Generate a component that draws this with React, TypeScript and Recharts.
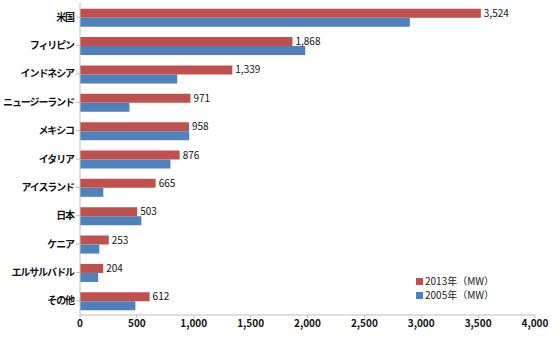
import React from 'react';
import { BarChart, Bar, XAxis, YAxis, LabelList, Legend } from 'recharts';

const countries = ['米国', 'フィリピン', 'インドネシア', 'ニュージーランド', 'メキシコ', 'イタリア', 'アイスランド', '日本', 'ケニア', 'エルサルバドル', 'その他'];
const mw2013 = [3524, 1868, 1339, 971, 958, 876, 665, 503, 253, 204, 612];
const mw2005 = [2900, 1980, 855, 435, 960, 795, 205, 540, 170, 160, 487];
const xTicks = [0, 500, 1000, 1500, 2000, 2500, 3000, 3500, 4000];

const series = [
  { key: 'y2013', name: '2013年（MW）', color: '#C0504D' },
  { key: 'y2005', name: '2005年（MW）', color: '#4F81BD' },
];

const data = countries.map((c, i) => ({ country: c, y2013: mw2013[i], y2005: mw2005[i] }));

const font = '"Noto Sans CJK JP", "Noto Sans", sans-serif';

const LegendBox = () => (
  <div style={{ fontFamily: font, fontSize: 10, color: '#222', lineHeight: '14px' }}>
    {series.map((s) => (
      <div key={s.key} style={{ display: 'flex', alignItems: 'center' }}>
        <span style={{ width: 7, height: 7, background: s.color, marginRight: 2, display: 'inline-block' }} />
        {s.name}
      </div>
    ))}
  </div>
);

export default function App() {
  return (
    <div style={{ position: 'absolute', left: 0, top: 0, width: 560, height: 341, background: '#fff' }}>
      <BarChart
        width={560}
        height={341}
        data={data}
        layout="vertical"
        margin={{ top: 3, right: 25, bottom: 4, left: 0 }}
        barCategoryGap="20%"
        barGap={0}
      >
        <XAxis
          type="number"
          domain={[0, 4000]}
          ticks={xTicks}
          tickFormatter={(v: number) => v.toLocaleString('en-US')}
          axisLine={{ stroke: '#BFBFBF' }}
          tickLine={{ stroke: '#BFBFBF' }}
          tickSize={3}
          tick={{ fill: '#111', fontSize: 10, fontWeight: 'bold', fontFamily: font }}
          height={22}
        />
        <YAxis
          type="category"
          dataKey="country"
          width={80}
          axisLine={{ stroke: '#BFBFBF' }}
          tickLine={{ stroke: '#BFBFBF' }}
          tickSize={4}
          tick={{ fill: '#111', fontSize: 10, fontWeight: 'bold', fontFamily: font, letterSpacing: -1.1 }}
        />
        <Legend
          layout="horizontal"
          align="center"
          verticalAlign="middle"
          content={<LegendBox />}
          wrapperStyle={{ position: 'absolute', left: 416, top: 274, width: 100 }}
        />
        <Bar dataKey="y2013" name={series[0].name} fill={series[0].color} isAnimationActive={false}>
          <LabelList
            dataKey="y2013"
            position="right"
            offset={3}
            formatter={(v: number) => v.toLocaleString('en-US')}
            style={{ fill: '#111', fontSize: 10, fontFamily: font }}
          />
        </Bar>
        <Bar dataKey="y2005" name={series[1].name} fill={series[1].color} isAnimationActive={false} />
      </BarChart>
    </div>
  );
}
